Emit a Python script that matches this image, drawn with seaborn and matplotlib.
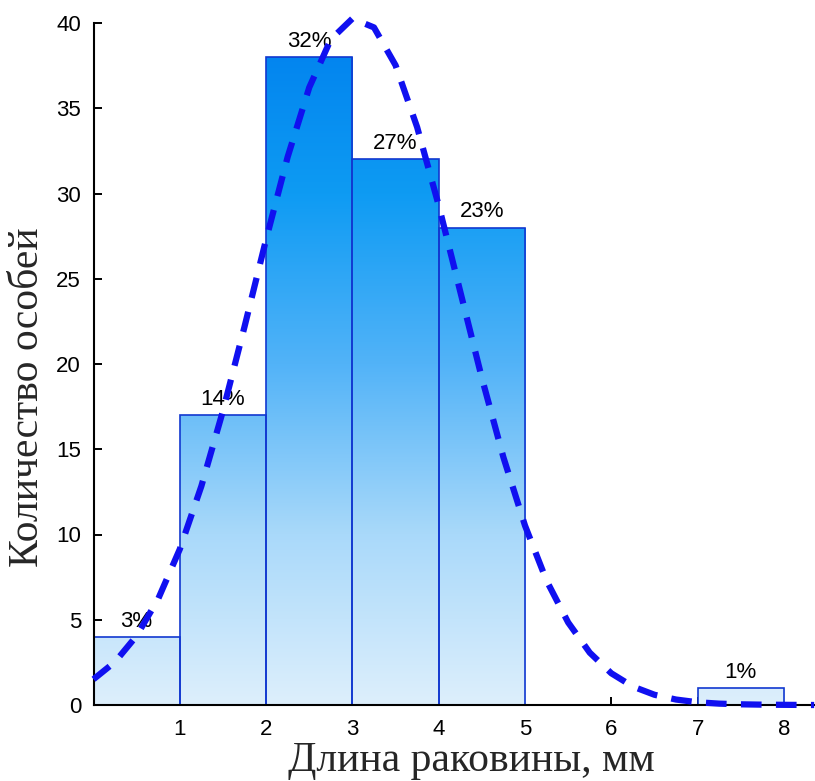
import numpy as np
import matplotlib
matplotlib.use("Agg")
import matplotlib.pyplot as plt
from matplotlib.colors import LinearSegmentedColormap
import seaborn as sns

# ---- data ----
bin_edges = [0, 1, 2, 3, 4, 5, 6, 7, 8]
bin_centers = [0.5, 1.5, 2.5, 3.5, 4.5, 5.5, 6.5, 7.5]
counts = [4, 17, 38, 32, 28, 0, 0, 1]
pct_labels = ["3%", "14%", "32%", "27%", "23%", "", "", "1%"]

curve_x = [0.0, 0.25, 0.5, 0.75, 1.0, 1.25, 1.5, 1.75, 2.0, 2.25, 2.5, 2.75,
           3.0, 3.25, 3.5, 3.75, 4.0, 4.25, 4.5, 4.75, 5.0, 5.25, 5.5, 5.75,
           6.0, 6.25, 6.5, 6.75, 7.0, 7.25, 7.5, 7.75, 8.0, 8.35]
curve_y = [1.51, 2.53, 4.06, 6.23, 9.14, 12.84, 17.25, 22.19, 27.31, 32.15,
           36.22, 39.04, 40.26, 39.74, 37.52, 33.89, 29.30, 24.24, 19.18,
           14.52, 10.52, 7.29, 4.84, 3.07, 1.86, 1.08, 0.60, 0.32, 0.16,
           0.08, 0.04, 0.02, 0.01, 0.0]

x_ticks = [1, 2, 3, 4, 5, 6, 7, 8]
y_ticks = [0, 5, 10, 15, 20, 25, 30, 35, 40]

xlabel = "Длина раковины, мм"
ylabel = "Количество особей"

# ---- style ----
sns.set_theme(style="ticks")
plt.rcParams["font.family"] = ["Liberation Sans", "DejaVu Sans"]

W, H = 815, 781
fig = plt.figure(figsize=(W / 100, H / 100), dpi=100)
ax = fig.add_axes([93.5 / W, 1 - 705 / H, (W - 93.5) / W, (705 - 23) / H])

XMAX, YMAX = 8.36, 40

sns.histplot(x=bin_centers, weights=counts, bins=bin_edges, ax=ax,
             stat="count", element="bars", fill=True,
             facecolor="none", edgecolor="#1238D0", linewidth=1.2)

grad_cmap = LinearSegmentedColormap.from_list(
    "g", [(0.0, "#DDEFFC"), (0.25, "#A9D9FA"), (0.5, "#52B3F8"),
          (0.75, "#0E9BF3"), (1.0, "#0080EE")])
grad = np.linspace(0, 1, 256).reshape(-1, 1)
for p in list(ax.patches):
    p.set_facecolor("none")
    p.set_zorder(3)
    if p.get_height() > 0:
        im = ax.imshow(grad, cmap=grad_cmap, origin="lower", aspect="auto",
                       extent=[0, XMAX, 0, YMAX], zorder=2)
        im.set_clip_path(p)

for c, n, lab in zip(bin_centers, counts, pct_labels):
    if lab:
        ax.text(c, n + 0.3, lab, ha="center", va="bottom", fontsize=16,
                color="black", zorder=5)

sns.lineplot(x=curve_x, y=curve_y, ax=ax, color="#1010F0", linewidth=4.5,
             zorder=6)
ln = ax.lines[-1]
ln.set_dashes([3.3, 2.3])
ln.set_dash_capstyle("butt")
ln.set_clip_on(False)

ax.set_xlim(0, XMAX)
ax.set_ylim(0, YMAX)
ax.set_xticks(x_ticks)
ax.set_yticks(y_ticks)
ax.set_xticklabels([str(t) for t in x_ticks])
ax.set_yticklabels([str(t) for t in y_ticks])
ax.tick_params(axis="both", direction="in", length=6, width=1.4,
               labelsize=16, colors="black")
ax.tick_params(axis="x", pad=10)
ax.tick_params(axis="y", pad=9)
for s in ["top", "right"]:
    ax.spines[s].set_visible(False)
for s in ["left", "bottom"]:
    ax.spines[s].set_linewidth(1.5)
    ax.spines[s].set_color("black")
    ax.spines[s].set_zorder(4)
ax.set_xlabel("")
ax.set_ylabel("")
ax.set_facecolor("white")

fig.text(471 / W, 1 - 771 / H, xlabel, ha="center", va="baseline",
         fontsize=30, family=["Liberation Serif", "DejaVu Serif"])
fig.text(28 / W, 1 - 397.5 / H, ylabel, ha="center", va="center",
         rotation=90, fontsize=30, family=["Liberation Serif", "DejaVu Serif"])

fig.savefig("out.png", dpi=100, facecolor="white")
